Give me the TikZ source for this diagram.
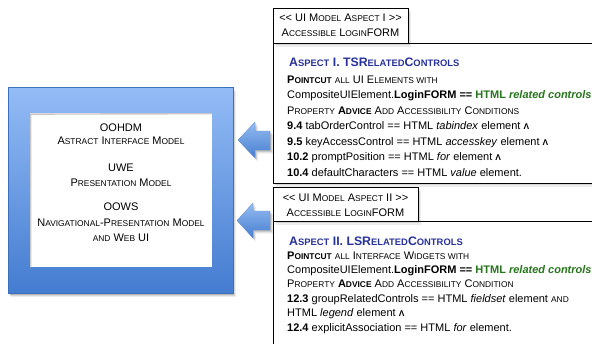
\documentclass[tikz,border=0pt]{standalone}
\usepackage{fontspec}
\setmainfont{Liberation Sans}

\definecolor{titleblue}{RGB}{40,50,155}
\definecolor{htmlgreen}{RGB}{38,118,28}
\definecolor{frametop}{RGB}{148,188,246}
\definecolor{framebot}{RGB}{68,124,208}
\definecolor{arrowtop}{RGB}{150,188,242}
\definecolor{arrowbot}{RGB}{70,126,208}

% fake small capitals for the sans font
\newcommand\sm[1]{{\fontsize{8.4}{10}\selectfont #1}}
\newcommand\smt[1]{{\fontsize{9.4}{11}\selectfont #1}}
\newcommand\andmark{\textbf{\sm{Λ}}}

\begin{document}
\begin{tikzpicture}[x=1pt,y=-1pt,
  softshadow/.style={
    preaction={fill=black,opacity=0.07,transform canvas={xshift=3pt,yshift=-3.5pt}},
    preaction={fill=black,opacity=0.10,transform canvas={xshift=2pt,yshift=-2.4pt}},
    preaction={fill=black,opacity=0.14,transform canvas={xshift=1pt,yshift=-1.3pt}}},
  panel/.style={draw=black,line width=0.8pt,fill=white,inner sep=0pt,outer sep=0pt,anchor=north west},
  body/.style={font=\fontsize{11}{13}\selectfont,anchor=base west,inner sep=0pt},
  title/.style={font=\fontsize{12.3}{14}\selectfont\bfseries,text=titleblue,anchor=base west,inner sep=0pt},
  centred/.style={font=\fontsize{11}{13}\selectfont,anchor=base,inner sep=0pt},
  blockarrow/.style={softshadow,top color=arrowtop,bottom color=arrowbot,draw=arrowbot!85!white,line width=0.3pt}]

\useasboundingbox (0,0) rectangle (592,343);
\clip (0,0) rectangle (592,343);

% ---- blue frame with the web engineering models ----
\node[softshadow,top color=frametop,bottom color=framebot,draw=framebot!90!black,line width=0.4pt,
      inner sep=0pt,anchor=north west,minimum width=225pt,minimum height=206pt] (frame) at (8,87) {};
\node[fill=white,inner sep=0pt,anchor=north west,minimum width=182pt,minimum height=154pt] (models) at (30,113) {};
\draw[black!22,line width=1.4pt] (models.south west) ++(0.7,0) -- ++(0,-153.3) -- (212,113.7);

\node[centred] (oohdm)  at (121,131) {OOHDM};
\node[centred] (aim)    at (121,144) {A\sm{STRACT} I\sm{NTERFACE} M\sm{ODEL}};
\node[centred] (uwe)    at (121,171) {UWE};
\node[centred] (pm)     at (121,186) {P\sm{RESENTATION} M\sm{ODEL}};
\node[centred] (oows)   at (121,210) {OOWS};
\node[centred] (npm)    at (121,226) {N\sm{AVIGATIONAL}-P\sm{RESENTATION} M\sm{ODEL}};
\node[centred] (webui)  at (121,241) {\sm{AND} W\sm{EB} UI};

% ---- aspect panels ----
\node[panel,softshadow,minimum width=340pt,minimum height=140pt] (aspectA) at (273,43) {};
\node[panel,softshadow,minimum width=135pt,minimum height=35pt] (tagA) at (273,8) {};
\node[panel,softshadow,minimum width=340pt,minimum height=140pt] (aspectB) at (273,221) {};
\node[panel,softshadow,minimum width=145pt,minimum height=34pt] (tagB) at (273,187) {};

% ---- block arrows towards the models ----
\path[blockarrow] (238,140) -- (255,122) -- (255,131) -- (270,131) -- (270,150)
  -- (255,150) -- (255,158) -- cycle;
\path[blockarrow] (237,220.5) -- (253,203) -- (253,211) -- (270,211) -- (270,230)
  -- (253,230) -- (253,238) -- cycle;

% ---- stereotype tags ----
\node[centred] (tagAa) at (340.5,21) {<{}< UI M\sm{ODEL} A\sm{SPECT} I >{}>};
\node[centred] (tagAb) at (340.5,36) {A\sm{CCESSIBLE} L\sm{OGIN}FORM};
\node[centred] (tagBa) at (345.5,201) {<{}< UI M\sm{ODEL} A\sm{SPECT} II >{}>};
\node[centred] (tagBb) at (345.5,216) {A\sm{CCESSIBLE} L\sm{OGIN}FORM};

% ---- aspect I ----
\node[title] (a0) at (289,66) {A\smt{SPECT} I. TSR\smt{ELATED}C\smt{ONTROLS}};
\node[body] (a1) at (287,83)   {\textbf{P\sm{OINTCUT}} \sm{ALL} UI E\sm{LEMENTS WITH}};
\node[body] (a2) at (287,98.5) {CompositeUIElement.\textbf{LoginFORM ==} \textcolor{htmlgreen}{\textbf{HTML \textit{related controls}}}};
\node[body] (a3) at (287,114)  {P\sm{ROPERTY} \textbf{A\sm{DVICE}} A\sm{DD} A\sm{CCESSIBILITY} C\sm{ONDITIONS}};
\node[body] (a4) at (287,129.5){\textbf{9.4} tabOrderControl == HTML \textit{tabindex} element \andmark};
\node[body] (a5) at (287,145)  {\textbf{9.5} keyAccessControl == HTML \textit{accesskey} element \andmark};
\node[body] (a6) at (287,160.5){\textbf{10.2} promptPosition == HTML \textit{for} element \andmark};
\node[body] (a7) at (287,176)  {\textbf{10.4} defaultCharacters == HTML \textit{value} element.};

% ---- aspect II ----
\node[title] (b0) at (289,245) {A\smt{SPECT} II. LSR\smt{ELATED}C\smt{ONTROLS}};
\node[body] (b1) at (287,259)   {\textbf{P\sm{OINTCUT}} \sm{ALL} I\sm{NTERFACE} W\sm{IDGETS WITH}};
\node[body] (b2) at (287,273.4) {CompositeUIElement.\textbf{LoginFORM ==} \textcolor{htmlgreen}{\textbf{HTML \textit{related controls}}}};
\node[body] (b3) at (287,287.8) {P\sm{ROPERTY} \textbf{A\sm{DVICE}} A\sm{DD} A\sm{CCESSIBILITY} C\sm{ONDITION}};
\node[body] (b4) at (287,302.2) {\textbf{12.3} groupRelatedControls == HTML \textit{fieldset} element \sm{AND}};
\node[body] (b5) at (287,316.6) {HTML \textit{legend} element \andmark};
\node[body] (b6) at (287,331)   {\textbf{12.4} explicitAssociation == HTML \textit{for} element.};

\end{tikzpicture}
\end{document}
